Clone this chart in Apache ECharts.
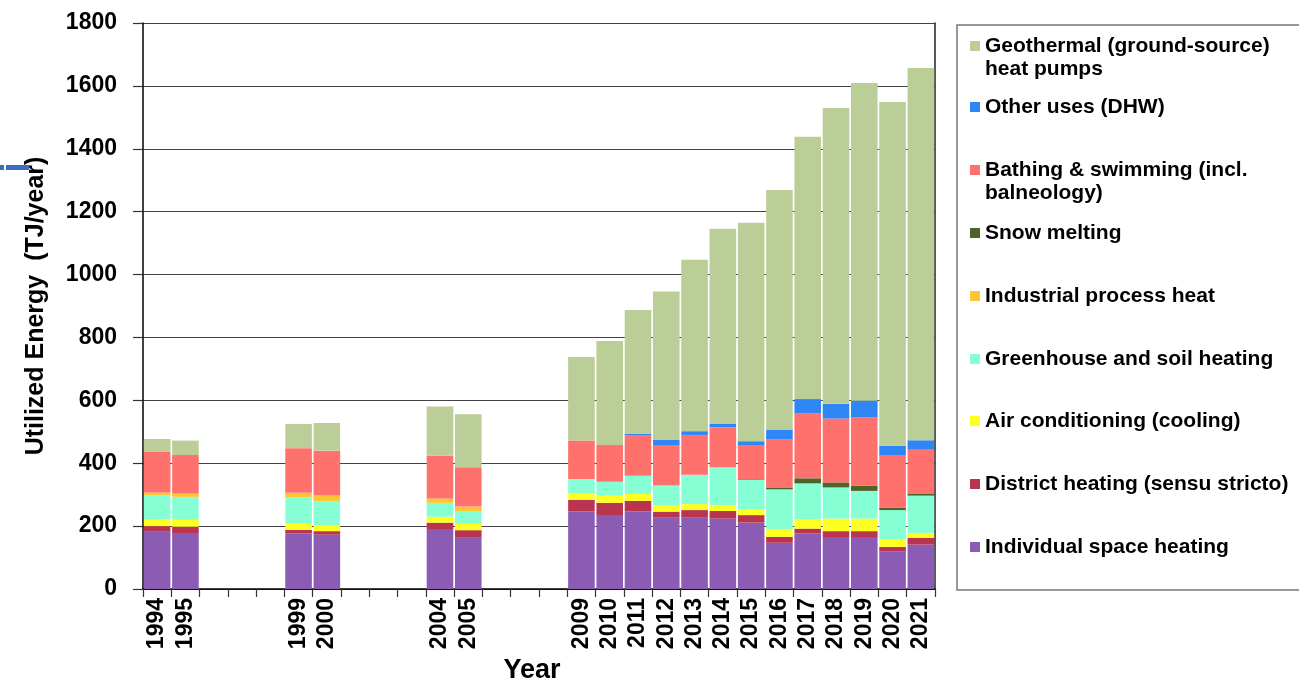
<!DOCTYPE html>
<html>
<head>
<meta charset="utf-8">
<script src="https://cdn.jsdelivr.net/npm/echarts@6/dist/echarts.min.js"></script>
<style>
html,body{margin:0;padding:0;background:#fff;}
#chart{width:1299px;height:681px;}
</style>
</head>
<body>
<div id="chart"></div>
<script>
// ---- categories (all years on the axis; gaps have no data) ----
const categories = ['1994','1995','1996','1997','1998','1999','2000','2001','2002','2003','2004','2005','2006','2007','2008','2009','2010','2011','2012','2013','2014','2015','2016','2017','2018','2019','2020','2021'];
// years that carry data and a tick label
const dataYears = ['1994','1995','1999','2000','2004','2005','2009','2010','2011','2012','2013','2014','2015','2016','2017','2018','2019','2020','2021'];
const yTicks = [0,200,400,600,800,1000,1200,1400,1600,1800];

// ---- series values (TJ/year), one per data year ----
const individualSpace = [182,178,176,173,188,163,246,235,246,227,227,224,211,147,176,165,165,119,141];
const districtHeating = [18,20,12,11,23,24,37,39,34,19,24,24,24,19,16,19,19,15,22];
const airConditioning = [22,22,21,18,19,20,21,23,22,21,19,19,18,24,30,40,40,25,14];
const greenhouse      = [75,73,83,78,44,41,46,44,58,62,93,120,94,127,114,99,88,92,120];
const industrial      = [10,11,14,17,14,14,0,0,0,0,0,0,0,0,0,0,0,0,0];
const snowMelting     = [0,0,0,0,0,0,0,0,0,0,0,0,2,6,16,16,17,8,7];
const bathing         = [130,122,142,143,136,125,122,117,128,127,127,127,109,152,206,203,216,165,139];
const otherUses       = [0,0,0,0,0,0,0,0,6,19,12,11,12,32,46,47,54,32,30];
const heatPumps       = [40,46,77,88,156,169,266,331,393,471,545,621,695,762,834,941,1010,1093,1184];

const seriesDefs = [
  {name:'Individual space heating', data:individualSpace, color:'#8C5CB4', iconY:547},
  {name:'District heating (sensu stricto)', data:districtHeating, color:'#B8344F', iconY:484},
  {name:'Air conditioning (cooling)', data:airConditioning, color:'#FFFF22', iconY:421},
  {name:'Greenhouse and soil heating', data:greenhouse, color:'#85FFD3', iconY:359},
  {name:'Industrial process heat', data:industrial, color:'#FFC533', iconY:296},
  {name:'Snow melting', data:snowMelting, color:'#4F6228', iconY:233},
  {name:'Bathing & swimming (incl. balneology)', data:bathing, color:'#FF716D', iconY:170, label:'\nBathing & swimming (incl.\nbalneology)'},
  {name:'Other uses (DHW)', data:otherUses, color:'#2F86F6', iconY:107},
  {name:'Geothermal (ground-source) heat pumps', data:heatPumps, color:'#BBCE98', iconY:46, label:'\nGeothermal (ground-source)\nheat pumps'}
];

function fullRow(vals){
  return categories.map(c => {
    const i = dataYears.indexOf(c);
    return i < 0 ? null : vals[i];
  });
}

const FONT = '"Liberation Sans", Arial, sans-serif';
const LH = 23;

const legends = seriesDefs.map(s => {
  const lines = s.label ? 3 : 1;
  const half = lines * LH / 2;
  return {
    data: [s.name],
    orient: 'vertical',
    left: 970,
    top: s.iconY - half,
    padding: 0,
    itemWidth: 10,
    itemHeight: 10,
    icon: 'rect',
    selectedMode: false,
    formatter: () => s.label || s.name,
    textStyle: {fontFamily: FONT, fontWeight: 'bold', fontSize: 21, color: '#000', lineHeight: LH}
  };
});

const chart = echarts.init(document.getElementById('chart'), null, {renderer:'canvas'});
chart.setOption({
  animation: false,
  backgroundColor: '#fff',
  grid: {left: 143, right: 364, top: 23, bottom: 92, containLabel: false, outerBoundsMode: 'none'},
  legend: legends,
  graphic: [
    {type:'rect', shape:{x:957, y:25, width:360, height:565}, style:{fill:'none', stroke:'#777', lineWidth:1.5}, z:-1},
    {type:'rect', shape:{x:0, y:165, width:4, height:5}, style:{fill:'#3A6CC0'}},
    {type:'rect', shape:{x:6, y:165, width:23, height:5}, style:{fill:'#3A6CC0'}}
  ],
  xAxis: {
    type: 'category',
    data: categories,
    name: 'Year',
    nameLocation: 'middle',
    nameGap: 64,
    nameTextStyle: {fontFamily: FONT, fontWeight: 'bold', fontSize: 27, color: '#000', padding: [0, 14, 0, 0]},
    axisLine: {lineStyle: {color: '#000', width: 1.5}},
    axisTick: {show: true, length: 8, lineStyle: {color: '#333', width: 1.2}},
    axisLabel: {
      rotate: 90,
      margin: 9,
      interval: 0,
      fontFamily: FONT, fontWeight: 'bold', fontSize: 23, color: '#000',
      formatter: v => dataYears.indexOf(v) >= 0 ? v : ''
    },
    splitLine: {show: false}
  },
  yAxis: [{
    type: 'value',
    min: yTicks[0],
    max: yTicks[yTicks.length - 1],
    interval: yTicks[1] - yTicks[0],
    name: 'Utilized Energy  (TJ/year)',
    nameLocation: 'middle',
    nameGap: 94,
    nameTextStyle: {fontFamily: FONT, fontWeight: 'bold', fontSize: 25, color: '#000'},
    axisLine: {show: true, lineStyle: {color: '#000', width: 1.5}},
    axisTick: {show: true, length: 10, lineStyle: {color: '#333', width: 1.2}},
    axisLabel: {margin: 26, fontFamily: FONT, fontWeight: 'bold', fontSize: 23, color: '#000', formatter: v => String(v)},
    splitLine: {show: true, lineStyle: {color: '#444', width: 1.2}}
  }, {
    type: 'value',
    position: 'right',
    min: yTicks[0],
    max: yTicks[yTicks.length - 1],
    interval: yTicks[1] - yTicks[0],
    axisLine: {show: true, lineStyle: {color: '#222', width: 1.5}},
    axisTick: {show: false},
    axisLabel: {show: false},
    splitLine: {show: false}
  }],
  series: seriesDefs.map(s => ({
    name: s.name,
    type: 'bar',
    stack: 'total',
    barCategoryGap: '6%',
    data: fullRow(s.data),
    itemStyle: {color: s.color},
    emphasis: {disabled: true}
  }))
});
</script>
</body>
</html>
